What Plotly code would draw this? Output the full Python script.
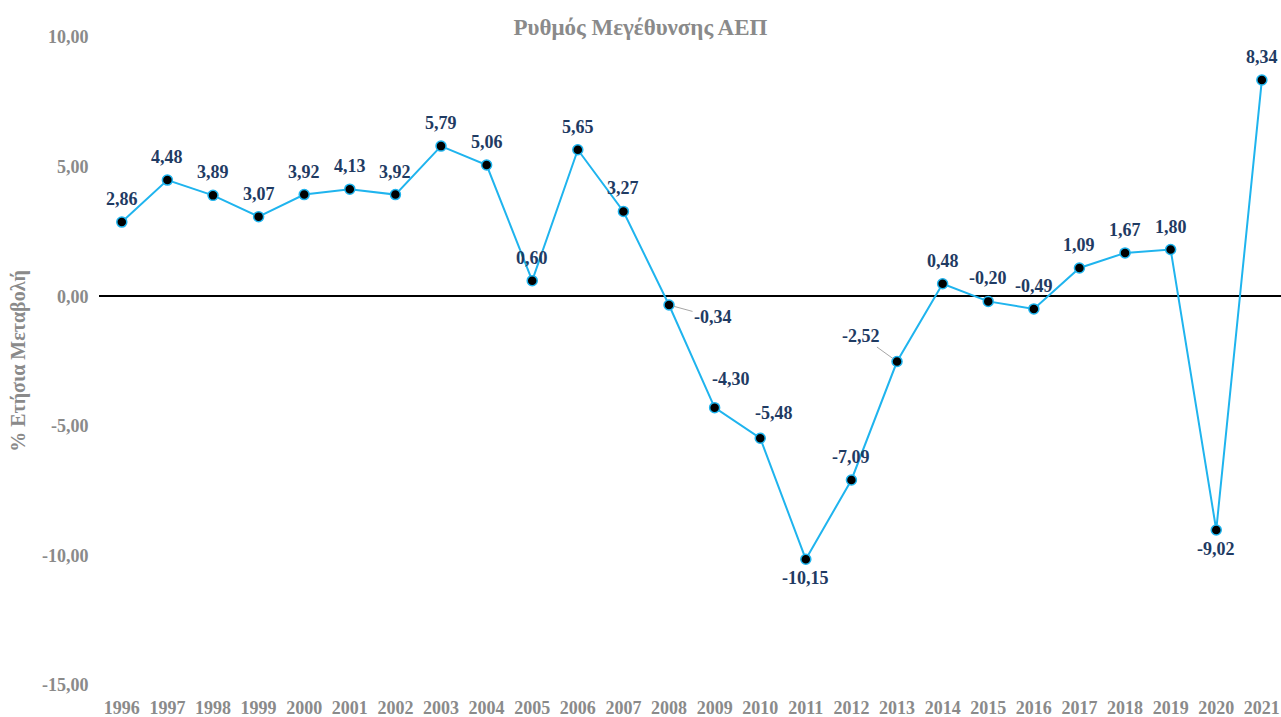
import plotly.graph_objects as go

years = list(range(1996, 2022))
growth = [2.86, 4.48, 3.89, 3.07, 3.92, 4.13, 3.92, 5.79, 5.06, 0.60,
          5.65, 3.27, -0.34, -4.30, -5.48, -10.15, -7.09, -2.52, 0.48, -0.20,
          -0.49, 1.09, 1.67, 1.80, -9.02, 8.34]
labels = [f"{v:.2f}".replace(".", ",") for v in growth]
y_ticks = [10, 5, 0, -5, -10, -15]
y_ticktext = ["10,00", "5,00", "0,00", "-5,00", "-10,00", "-15,00"]
title_text = "Ρυθμός Μεγέθυνσης ΑΕΠ"
y_title = "% Ετήσια Μεταβολή"

FONT = "Liberation Serif"
GRAY = "#8A8A8A"
LABEL = "#1F3B63"
LINE = "#1FB4EE"

# label placement: (xshift, yshift, arrow)
special = {
    2008: (44, -12, True),
    2009: (16, 29, False),
    2010: (14, 25, False),
    2011: (0, -19, False),
    2013: (-36, 26, True),
    2020: (0, -19, False),
}

fig = go.Figure()
fig.add_trace(go.Scatter(
    x=years, y=growth, mode="lines+markers",
    line=dict(color=LINE, width=2),
    marker=dict(size=10, color="black", line=dict(color=LINE, width=1.5)),
    hoverinfo="skip", showlegend=False,
))

annotations = []
for yr, v, t in zip(years, growth, labels):
    xs, ys, arrow = special.get(yr, (0, 23, False))
    if arrow:
        annotations.append(dict(
            x=yr, y=v, xref="x", yref="y", text=t, showarrow=True,
            ax=xs, ay=-ys, arrowhead=0, arrowwidth=1, arrowcolor="#A6A6A6",
            standoff=5,
            font=dict(family=FONT, size=18, color=LABEL, weight="bold"),
        ))
    else:
        annotations.append(dict(
            x=yr, y=v, xref="x", yref="y", text=t, showarrow=False,
            xshift=xs, yshift=ys,
            font=dict(family=FONT, size=18, color=LABEL, weight="bold"),
        ))

fig.update_layout(
    width=1281, height=717,
    margin=dict(l=99, r=0, t=37, b=32),
    paper_bgcolor="white", plot_bgcolor="white",
    title=dict(text=title_text, x=0.5, xanchor="center", y=1 - 27 / 717, yanchor="middle",
               font=dict(family=FONT, size=23, color=GRAY, weight="bold")),
    annotations=annotations,
    xaxis=dict(
        range=[1995.5, 2021.42], tickvals=years, ticktext=[str(y) for y in years],
        showgrid=False, zeroline=False, showline=False,
        ticks="outside", ticklen=6, tickcolor="rgba(0,0,0,0)",
        tickfont=dict(family=FONT, size=18, color=GRAY, weight="bold"),
    ),
    yaxis=dict(
        range=[-15, 10], tickvals=y_ticks, ticktext=y_ticktext,
        showgrid=False, zeroline=True, zerolinecolor="black", zerolinewidth=1.5,
        showline=False, ticks="outside", ticklen=6, tickcolor="rgba(0,0,0,0)",
        tickfont=dict(family=FONT, size=18, color=GRAY, weight="bold"),
        title=dict(text=y_title, standoff=10,
                   font=dict(family=FONT, size=20, color=GRAY, weight="bold")),
    ),
)

fig.write_html("out.html", config={"displayModeBar": False},
               post_script="document.body.style.margin='0';document.body.style.overflow='hidden';")
